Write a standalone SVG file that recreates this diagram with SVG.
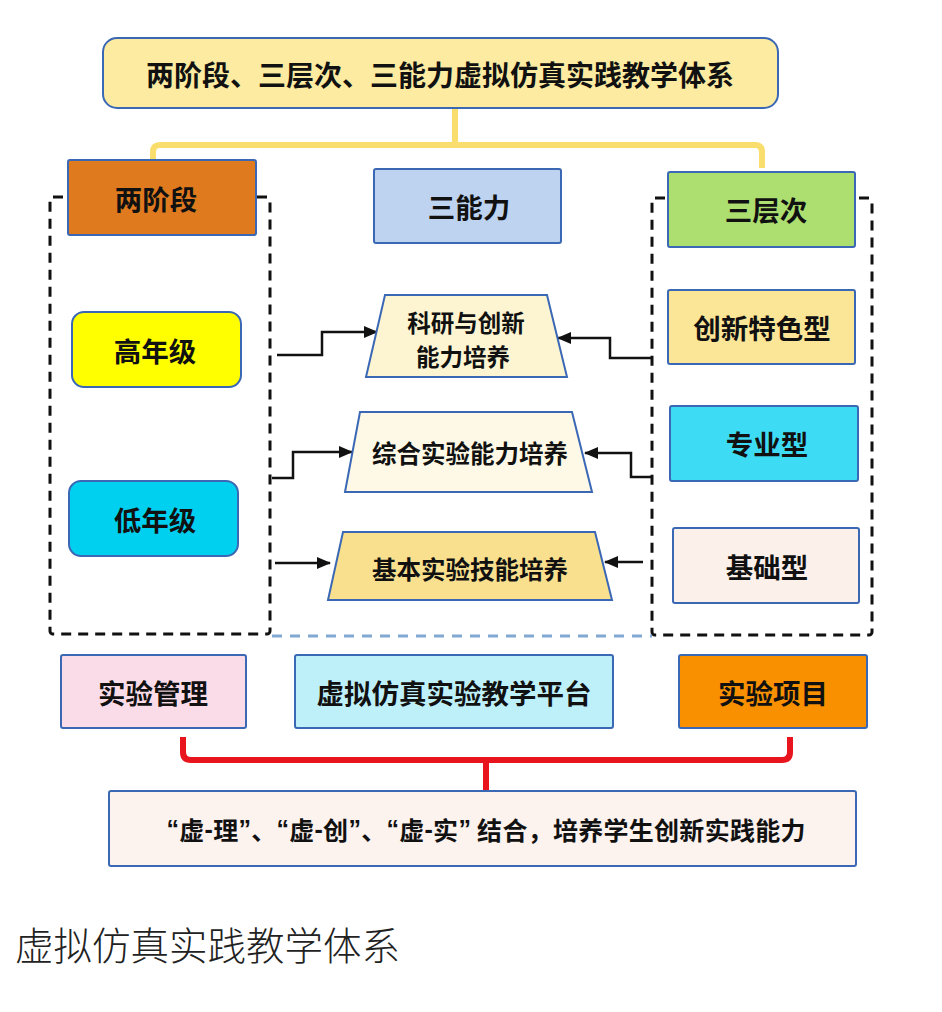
<svg xmlns="http://www.w3.org/2000/svg" width="942" height="1012" viewBox="0 0 942 1012">
<defs>
<style>
.b{stroke:#3B68B5;stroke-width:2}
.t{font-family:"Noto Sans CJK SC","Noto Sans",sans-serif;font-weight:700;fill:#111;text-anchor:middle;dominant-baseline:central}
.q{font-family:"Liberation Sans",sans-serif;font-weight:700}
.c{fill:none;stroke:#111;stroke-width:2.5}
.dash{fill:none;stroke:#111;stroke-width:3;stroke-dasharray:10 7}
</style>
<marker id="ar" markerUnits="userSpaceOnUse" markerWidth="14" markerHeight="12" refX="13" refY="6" orient="auto">
<path d="M0,0 L14,6 L0,12 Z" fill="#111"/>
</marker>
</defs>
<rect width="942" height="1012" fill="#fff"/>

<g id="connectors">
<path d="M455,108 V145 M153,160 V152 Q153,145 160,145 H755 Q762,145 762,152 V168" fill="none" stroke="#F9DE6E" stroke-width="6"/>
<rect x="50" y="197" width="220" height="437" rx="3" class="dash"/>
<rect x="652" y="198" width="220" height="437" rx="3" class="dash"/>
<line x1="272" y1="636" x2="652" y2="636" stroke="#82A9D4" stroke-width="3" stroke-dasharray="10 8"/>
<path d="M277,355 H322 V332 H377" class="c" marker-end="url(#ar)"/>
<path d="M652,358 H610 V338 H558" class="c" marker-end="url(#ar)"/>
<path d="M272,478 H293 V452 H352" class="c" marker-end="url(#ar)"/>
<path d="M652,477 H631 V453 H585" class="c" marker-end="url(#ar)"/>
<path d="M275,563 H330" class="c" marker-end="url(#ar)"/>
<path d="M643,562 H605" class="c" marker-end="url(#ar)"/>
<path d="M183,737 V752 Q183,760 191,760 H782 Q790,760 790,752 V737 M486,760 V791" fill="none" stroke="#E8141E" stroke-width="6"/>
</g>

<g id="title">
<rect x="103" y="38" width="675" height="70" rx="14" fill="#FCEBA0" class="b"/>
<text x="440" y="74" class="t" font-size="28">两阶段、三层次、三能力虚拟仿真实践教学体系</text>
</g>

<g id="liangjieduan">
<rect x="68" y="160" width="188" height="75" rx="2" fill="#E07A1F" class="b"/>
<text x="156" y="198" class="t" font-size="27.5">两阶段</text>
</g>
<g id="sannengli">
<rect x="374" y="169" width="187" height="74" rx="2" fill="#BDD3EF" class="b"/>
<text x="469" y="206" class="t" font-size="27.5">三能力</text>
</g>
<g id="sancengci">
<rect x="668" y="172" width="187" height="75" rx="2" fill="#ADDF70" class="b"/>
<text x="766" y="209" class="t" font-size="27.5">三层次</text>
</g>

<g id="gaonianji">
<rect x="72" y="312" width="169" height="75" rx="12" fill="#FFFF00" class="b"/>
<text x="155" y="350" class="t" font-size="27.5">高年级</text>
</g>
<g id="dinianji">
<rect x="69" y="481" width="169" height="75" rx="12" fill="#00D0F0" class="b"/>
<text x="155" y="519" class="t" font-size="27.5">低年级</text>
</g>

<g id="chuangxin">
<rect x="668" y="290" width="187" height="74" rx="2" fill="#FBE596" class="b"/>
<text x="762" y="327" class="t" font-size="27.5">创新特色型</text>
</g>
<g id="zhuanye">
<rect x="670" y="406" width="188" height="75" rx="2" fill="#3EDCF4" class="b"/>
<text x="767" y="443" class="t" font-size="27.5">专业型</text>
</g>
<g id="jichu">
<rect x="673" y="528" width="186" height="75" rx="2" fill="#FBF1EA" class="b"/>
<text x="767" y="566" class="t" font-size="27.5">基础型</text>
</g>

<g id="keyan">
<polygon points="385,295 547,295 567,377 366,377" fill="#FDF5D2" class="b"/>
<text class="t" font-size="23.5"><tspan x="466" y="322">科研与创新</tspan><tspan x="463" y="356">能力培养</tspan></text>
</g>
<g id="zonghe">
<polygon points="360,412 572,412 592,492 345,492" fill="#FDF9E6" class="b"/>
<text x="470" y="452" class="t" font-size="24.5">综合实验能力培养</text>
</g>
<g id="jiben">
<polygon points="343,532 595,532 612,600 328,600" fill="#F9E08E" class="b"/>
<text x="470" y="568" class="t" font-size="24.5">基本实验技能培养</text>
</g>

<g id="guanli">
<rect x="61" y="655" width="185" height="73" rx="2" fill="#FADCE8" class="b"/>
<text x="153" y="692" class="t" font-size="27.5">实验管理</text>
</g>
<g id="pingtai">
<rect x="295" y="655" width="318" height="73" rx="2" fill="#BEF0FA" class="b"/>
<text x="454" y="692" class="t" font-size="27.5">虚拟仿真实验教学平台</text>
</g>
<g id="xiangmu">
<rect x="679" y="655" width="188" height="73" rx="2" fill="#F99000" class="b"/>
<text x="773" y="692" class="t" font-size="27.5">实验项目</text>
</g>

<g id="jiehe">
<rect x="109" y="791" width="747" height="75" rx="2" fill="#FCF2EE" class="b"/>
<text x="486" y="829" class="t" font-size="25" textLength="639" lengthAdjust="spacing"><tspan class="q">“</tspan>虚<tspan class="q">-</tspan>理<tspan class="q">”</tspan>、<tspan class="q">“</tspan>虚<tspan class="q">-</tspan>创<tspan class="q">”</tspan>、<tspan class="q">“</tspan>虚<tspan class="q">-</tspan>实<tspan class="q">”</tspan> 结合，培养学生创新实践能力</text>
</g>

<text x="15" y="943" font-family="Noto Sans CJK SC, sans-serif" font-weight="300" font-size="38.5" fill="#222" dominant-baseline="central">虚拟仿真实践教学体系</text>
</svg>
